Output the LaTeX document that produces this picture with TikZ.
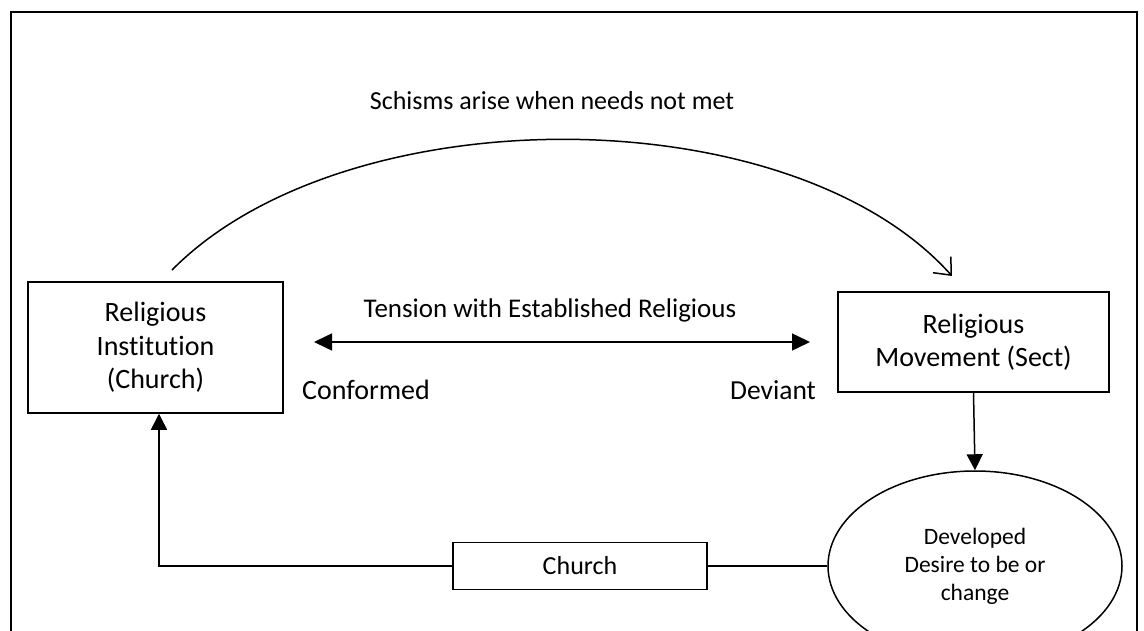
\documentclass[tikz,border=0pt]{standalone}
\usepackage{fontspec}
\setmainfont{Carlito}[Ligatures=NoCommon]
\usetikzlibrary{arrows.meta,shapes.geometric}

\tikzset{
  every node/.style={font=\fontsize{26.5}{33}\selectfont, align=center},
  box/.style={draw, line width=1.5pt, rectangle, inner sep=0pt,
    font=\fontsize{28}{33.5}\selectfont},
  oval/.style={draw, line width=1.5pt, ellipse, inner sep=0pt,
    font=\fontsize{23.5}{28}\selectfont},
  link/.style={line width=1.5pt},
  solidhead/.style={-{Triangle[length=16pt,width=16pt]}},
  bothheads/.style={{Triangle[length=18pt,width=17pt]}-{Triangle[length=18pt,width=17pt]}},
  openhead/.style={-{Straight Barb[length=14pt,width=24pt,line width=1.5pt]}},
  caption/.style={inner sep=0pt}
}

\begin{document}
\begin{tikzpicture}[x=1pt,y=-1pt]
  \useasboundingbox (0,0) rectangle (1144,631);
  \clip (0,0) rectangle (1144,631);
  \fill[white] (0,0) rectangle (1144,631);

  % outer frame, open at the bottom edge
  \draw[line width=1.8pt] (11,650) -- (11,12) -- (1137,12) -- (1137,650);

  % main boxes
  \node[box, minimum width=255pt, minimum height=131pt] (inst) at (155.5,347.5)
    {Religious\\Institution\\(Church)};
  \node[box, minimum width=271pt, minimum height=100pt] (sect) at (973.5,342)
    {Religious\\Movement (Sect)};
  \node[oval, minimum width=294pt, minimum height=190pt] (desire) at (975,566)
    {Developed\\Desire to be or\\change};
  \node[box, minimum width=254pt, minimum height=47pt,
    font=\fontsize{26}{30}\selectfont] (church) at (580,566) {Church};

  % labels
  \node[caption, font=\fontsize{26}{30}\selectfont] (schism) at (552,101)
    {Schisms arise when needs not met};
  \node[caption, font=\fontsize{27}{30}\selectfont] (tension) at (550,310)
    {Tension with Established Religious};
  \node[caption, font=\fontsize{28}{30}\selectfont] (conf) at (366,390) {Conformed};
  \node[caption, font=\fontsize{27.5}{30}\selectfont] (dev) at (773,390) {Deviant};

  % schism arc from the church to the sect
  \coordinate (arcS) at (172,270);
  \coordinate (arcE) at (952,276);
  \draw[link, openhead] (arcS) .. controls (345,95) and (790,95) .. (arcE);

  % tension scale between conformed and deviant
  \coordinate (tL) at (314,342);
  \coordinate (tR) at (810,342);
  \draw[link, bothheads] (tL) -- (tR);

  % sect develops a desire to change
  \draw[link, solidhead] (sect.south) -- (desire.north);

  % return path through the church box
  \coordinate (turn) at (159,566);
  \draw[link] (desire.west) -- (church.east);
  \draw[link, solidhead] (church.west) -- (turn) -- (turn |- inst.south);
\end{tikzpicture}
\end{document}
